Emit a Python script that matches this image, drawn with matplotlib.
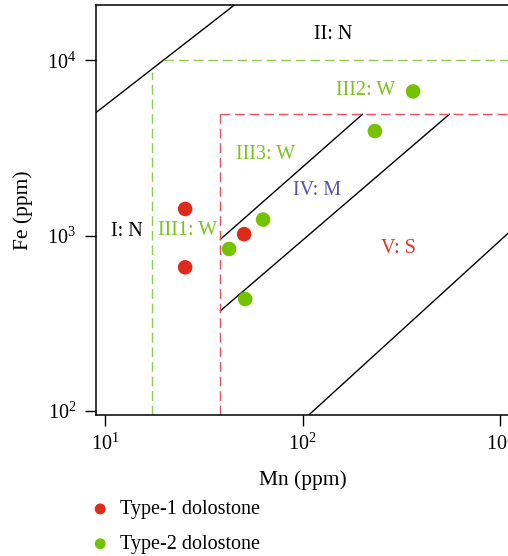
import matplotlib
matplotlib.use("Agg")
import matplotlib.pyplot as plt
import numpy as np

plt.rcParams['font.family'] = ['Liberation Serif', 'DejaVu Serif']
plt.rcParams['mathtext.fontset'] = 'custom'
plt.rcParams['mathtext.rm'] = 'Liberation Serif'

# data (Mn, Fe in ppm)
type1_mn = [25.4, 25.4, 50.5]
type1_fe = [1420, 660, 1020]
type2_mn = [42.4, 63.0, 51.1, 232, 362]
type2_fe = [840, 1235, 435, 3950, 6650]

# field boundaries (Mn, Fe)
bound_lines = [
    ([8.95, 44.9], [5020, 20600]),
    ([38.3, 200.5], [953, 4920]),
    ([38.3, 552], [373, 4920]),
    ([108, 1259], [95.5, 1190]),
]
green_mn, green_fe = 17.3, 10100
red_mn, red_fe = 38.3, 4920

zones = ["I: N", "II: N", "III1: W", "III2: W", "III3: W", "IV: M", "V: S"]
zone_mn = [12.8, 142.5, 26.0, 207, 65.2, 117.8, 304]
zone_fe = [1060, 14100, 1075, 6750, 2910, 1810, 850]
zone_col = ['black', 'black', '#7cc21e', '#7cc21e', '#7cc21e', '#5555b0', '#e8312a']

red = '#dc2a1c'
green = '#73c300'

fig = plt.figure(figsize=(5.08, 5.56), dpi=100)
ax = fig.add_axes([95.5 / 508, 1 - 414.5 / 556, 424.5 / 508, 409.2 / 556])
ax.set_xscale('log')
ax.set_yscale('log')
xmax = 10 ** 3.1
ax.set_xlim(8.93, xmax)
ax.set_ylim(95.5, 20600)

for xs, ys in bound_lines:
    ax.plot(xs, ys, color='black', lw=1.0)

ax.plot([green_mn, green_mn], [95.5, 8600], color='#8ccd4a', lw=1.0, dashes=(7, 3.5))
ax.plot([19.9, xmax], [green_fe, green_fe], color='#8ccd4a', lw=1.0, dashes=(7, 3.5))
ax.plot([red_mn, red_mn], [95.5, red_fe], color='#e8505e', lw=1.0, dashes=(7, 3.5))
ax.plot([red_mn, xmax], [red_fe, red_fe], color='#e8505e', lw=1.0, dashes=(7, 3.5))

s1 = ax.scatter(type1_mn, type1_fe, s=110, color=red, edgecolors='none', zorder=3)
s2 = ax.scatter(type2_mn, type2_fe, s=110, color=green, edgecolors='none', zorder=3)

for t, x, y, c in zip(zones, zone_mn, zone_fe, zone_col):
    ax.text(x, y, t, color=c, fontsize=14.5, ha='center', va='center')

ax.spines['right'].set_visible(False)
for sp in ['left', 'top', 'bottom']:
    ax.spines[sp].set_linewidth(1.1)
ax.minorticks_off()
ax.set_xticks([10, 100, 1000])
ax.set_yticks([100, 1000, 10000])
ax.tick_params(length=8, width=1.0, labelsize=14.5, pad=6)
ax.set_xlabel('Mn (ppm)', fontsize=15.5)
ax.set_ylabel('Fe (ppm)', fontsize=15.5)
ax.xaxis.set_label_coords(0.4876, -0.136)
ax.yaxis.set_label_coords(-0.147, 0.5)

leg = fig.legend([s1, s2], ['Type-1 dolostone', 'Type-2 dolostone'],
                 loc='upper left', bbox_to_anchor=(72 / 508, 1 - 482 / 556),
                 frameon=False, fontsize=14.5, markerscale=0.75,
                 handletextpad=0.5, labelspacing=0.78, handlelength=1.0)

fig.savefig('out.png', dpi=100)
